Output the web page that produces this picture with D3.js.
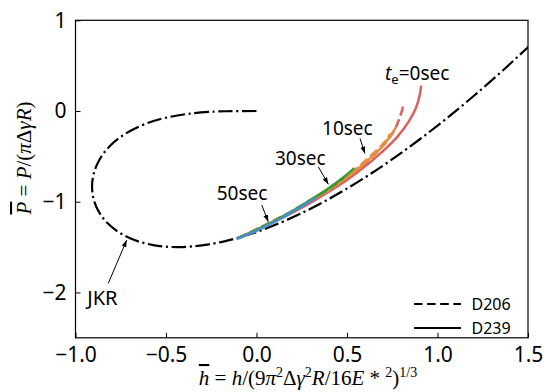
<!DOCTYPE html>
<html><head><meta charset="utf-8">
<script src="https://cdn.jsdelivr.net/npm/d3@7"></script>
<style>body{margin:0;background:#fff}</style></head>
<body><svg id="c" width="544" height="392"></svg>
<script>
// JKR theoretical curve (dimensionless), tabulated
const jkrH=[0,-0.1632,-0.2305,-0.3626,-0.5064,-0.6100,-0.6903,-0.7540,-0.8044,-0.8436,-0.8728,-0.8929,-0.9047,-0.9086,-0.9049,-0.8941,-0.8763,-0.8517,-0.8206,-0.7830,-0.7392,-0.6892,-0.6330,-0.5708,-0.5027,-0.4287,-0.3489,-0.2632,-0.1719,-0.0749,0.0278,0.1361,0.2500,0.3694,0.4944,0.6249,0.7608,0.9023,1.0491,1.2014,1.3591,1.5221];
const jkrP=[0,-0.0024,-0.0069,-0.0273,-0.0765,-0.1389,-0.2111,-0.2906,-0.3755,-0.4643,-0.5557,-0.6483,-0.7410,-0.8327,-0.9224,-1.0090,-1.0916,-1.1691,-1.2407,-1.3055,-1.3624,-1.4107,-1.4495,-1.4779,-1.4949,-1.4999,-1.4919,-1.4702,-1.4337,-1.3818,-1.3136,-1.2280,-1.1250,-1.0030,-0.8614,-0.7000,-0.5164,-0.3113,-0.0834,0.1680,0.4438,0.7449];

// experimental curves
const te0_D239_h=[-0.10,0.00,0.10,0.20,0.30,0.40,0.50,0.60,0.70,0.78,0.84,0.88,0.90,0.91];
const te0_D239_p=[-1.40,-1.31,-1.22,-1.12,-1.01,-0.89,-0.76,-0.61,-0.44,-0.28,-0.12,0.03,0.16,0.28];
const te0_D206_h=[-0.10,0.00,0.10,0.20,0.30,0.40,0.50,0.60,0.70,0.76,0.79,0.81];
const te0_D206_p=[-1.40,-1.31,-1.21,-1.11,-1.00,-0.88,-0.74,-0.58,-0.38,-0.22,-0.08,0.05];
const te10_D239_h=[-0.10,0.00,0.10,0.20,0.30,0.40,0.50,0.60,0.70,0.77];
const te10_D239_p=[-1.40,-1.31,-1.21,-1.11,-0.99,-0.87,-0.73,-0.57,-0.38,-0.18];
const te10_D206_h=[-0.10,0.00,0.10,0.20,0.30,0.40,0.50,0.60,0.70,0.74];
const te10_D206_p=[-1.40,-1.30,-1.20,-1.10,-0.98,-0.86,-0.72,-0.55,-0.36,-0.25];
const te30_D239_h=[-0.10,0.00,0.10,0.20,0.30,0.40,0.50,0.54];
const te30_D239_p=[-1.40,-1.31,-1.21,-1.10,-0.98,-0.85,-0.70,-0.63];
const te30_D206_h=[-0.10,0.00,0.10,0.20,0.30,0.40,0.48];
const te30_D206_p=[-1.40,-1.31,-1.21,-1.10,-0.98,-0.86,-0.74];
const te50_D239_h=[-0.11,0.00,0.10,0.20,0.30,0.33];
const te50_D239_p=[-1.41,-1.32,-1.22,-1.11,-0.99,-0.95];
const te50_D206_h=[-0.11,0.00,0.10,0.20,0.28];
const te50_D206_p=[-1.41,-1.32,-1.22,-1.11,-1.01];

const xTicks=[-1.0,-0.5,0.0,0.5,1.0,1.5];
const yTicks=[1,0,-1,-2];
const colors={te0:"#d9625f",te10:"#e3913f",te30:"#3a9a35",te50:"#4a8ec6"};

const svg=d3.select("#c");
const L=75.5,R=528,T=20.3,B=337.8;
const x=d3.scaleLinear().domain([-1.0,1.5]).range([L,R]);
const y=d3.scaleLinear().domain([-2.5,1]).range([B,T]);

svg.append("defs").append("clipPath").attr("id","clip")
  .append("rect").attr("x",L).attr("y",T).attr("width",R-L).attr("height",B-T);
svg.select("defs").append("marker").attr("id","ah").attr("viewBox","0 0 10 10")
  .attr("refX",10).attr("refY",5).attr("markerWidth",7).attr("markerHeight",7)
  .attr("markerUnits","userSpaceOnUse").attr("orient","auto")
  .append("path").attr("d","M0,1.5 L10,5 L0,8.5 Z").attr("fill","#000");

const g=svg.append("g").attr("clip-path","url(#clip)");
const line=d3.line().x(d=>x(d[0])).y(d=>y(d[1])).curve(d3.curveCatmullRom.alpha(0.5));

g.append("path").datum(d3.zip(jkrH,jkrP)).attr("d",line)
  .attr("fill","none").attr("stroke","#000").attr("stroke-width",2.2)
  .attr("stroke-dasharray","14.5,3.6,2.2,3.6");

const series=[
  [te0_D239_h,te0_D239_p,"te0",false],[te0_D206_h,te0_D206_p,"te0",true],
  [te10_D239_h,te10_D239_p,"te10",false],[te10_D206_h,te10_D206_p,"te10",true],
  [te30_D239_h,te30_D239_p,"te30",false],[te30_D206_h,te30_D206_p,"te30",true],
  [te50_D239_h,te50_D239_p,"te50",false],[te50_D206_h,te50_D206_p,"te50",true]
];
series.forEach(s=>{
  g.append("path").datum(d3.zip(s[0],s[1])).attr("d",line)
   .attr("fill","none").attr("stroke",colors[s[2]]).attr("stroke-width",2.5)
   .attr("stroke-dasharray",s[3]?"9,4":null);
});

// axes
const xa=d3.axisBottom(x).tickValues(xTicks).tickFormat(d3.format(".1f")).tickSizeInner(-5).tickSizeOuter(0).tickPadding(9);
const ya=d3.axisLeft(y).tickValues(yTicks).tickFormat(d3.format("d")).tickSizeInner(-5).tickSizeOuter(0).tickPadding(9);
const gx=svg.append("g").attr("transform",`translate(0,${B})`).call(xa);
const gy=svg.append("g").attr("transform",`translate(${L},0)`).call(ya);
[gx,gy].forEach(a=>{a.select(".domain").remove();
  a.selectAll("text").attr("font-family","Noto Sans").attr("font-size",21).attr("fill","#000");
  a.selectAll("line").attr("stroke","#000");});
svg.append("rect").attr("x",L).attr("y",T).attr("width",R-L).attr("height",B-T)
  .attr("fill","none").attr("stroke","#000").attr("stroke-width",1.2);

// annotations
const ann=[
  {t:"10sec",x:0.362,y:-0.265,ax:[0.572,-0.303],at:[0.599,-0.469]},
  {t:"30sec",x:0.102,y:-0.595,ax:[0.341,-0.614],at:[0.397,-0.808]},
  {t:"50sec",x:-0.22,y:-0.981,ax:[0.029,-1.036],at:[0.065,-1.221]},
  {t:"JKR",x:-0.935,y:-2.139,ax:[-0.819,-1.900],at:[-0.717,-1.422]}
];
ann.forEach(a=>{
  svg.append("text").attr("x",x(a.x)).attr("y",y(a.y)).text(a.t)
    .attr("font-family","Noto Sans").attr("font-size",a.t==="JKR"?20:19);
  svg.append("line").attr("x1",x(a.ax[0])).attr("y1",y(a.ax[1]))
    .attr("x2",x(a.at[0])).attr("y2",y(a.at[1]))
    .attr("stroke","#000").attr("stroke-width",1).attr("marker-end","url(#ah)");
});
const te=svg.append("text").attr("x",x(0.71)).attr("y",y(0.342))
  .attr("font-family","Noto Sans").attr("font-size",19);
te.append("tspan").attr("font-style","italic").text("t");
te.append("tspan").attr("font-size",13).attr("dy",4).text("e");
te.append("tspan").attr("dy",-4).text("=0sec");

// legend
const leg=[["D206",true,304],["D239",false,328]];
leg.forEach(l=>{
  svg.append("line").attr("x1",414).attr("x2",461).attr("y1",l[2]).attr("y2",l[2])
    .attr("stroke","#000").attr("stroke-width",1.8).attr("stroke-dasharray",l[1]?"8.5,4.6":null);
  svg.append("text").attr("x",471.5).attr("y",l[2]).attr("dy","0.35em").text(l[0])
    .attr("font-family","Noto Sans").attr("font-size",16);
});

// axis labels
function mathText(el,parts){
  parts.forEach(p=>{
    const ts=el.append("tspan").text(p.t);
    if(p.i) ts.attr("font-style","italic");
    if(p.o) ts.attr("text-decoration","overline");
    if(p.s){ts.attr("font-size",14).attr("dy",-8);}
    if(p.d) ts.attr("dy",p.d);
  });
}
const xl=svg.append("text").attr("x",308).attr("y",385).attr("text-anchor","middle")
  .attr("font-family","Liberation Serif").attr("font-size",21);
mathText(xl,[{t:"h",i:1,o:1},{t:" = "},{t:"h",i:1},{t:"/(9"},{t:"π",i:1},{t:"2",s:1},
  {t:"Δ",d:8},{t:"γ",i:1},{t:"2",s:1},{t:"R",i:1,d:8},{t:"/16"},{t:"E",i:1},{t:" * "},
  {t:"2",s:1},{t:")",d:8},{t:"1/3",s:1}]);
const yl=svg.append("text").attr("transform","translate(31,158) rotate(-90)").attr("text-anchor","middle")
  .attr("font-family","Liberation Serif").attr("font-size",21);
mathText(yl,[{t:"P",i:1,o:1},{t:" = "},{t:"P",i:1},{t:"/("},{t:"π",i:1},{t:"Δ"},{t:"γ",i:1},{t:"R",i:1},{t:")"}]);
</script></body></html>
